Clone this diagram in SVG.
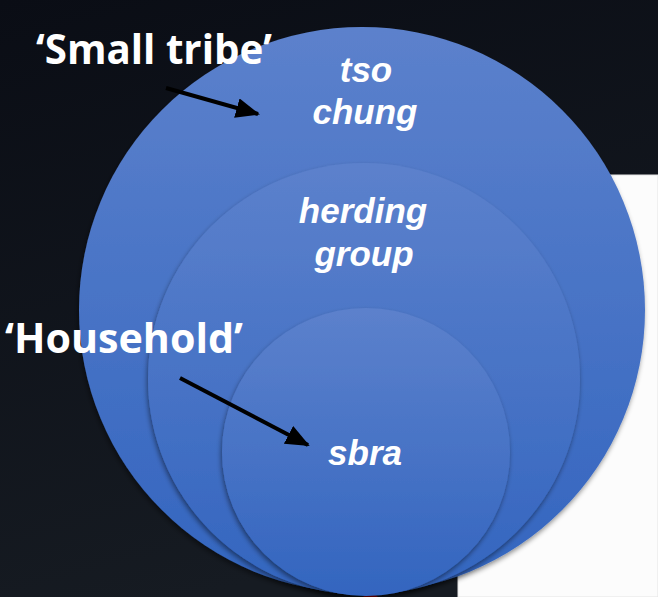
<svg xmlns="http://www.w3.org/2000/svg" width="658" height="597" viewBox="0 0 658 597">
<defs>
<linearGradient id="bg" x1="0" y1="0" x2="0.3" y2="1">
<stop offset="0" stop-color="#0a0d15"/>
<stop offset="1" stop-color="#161b22"/>
</linearGradient>
<linearGradient id="blue" x1="0" y1="0" x2="0" y2="1">
<stop offset="0" stop-color="#5c81cc"/>
<stop offset="1" stop-color="#3365bf"/>
</linearGradient>
<filter id="sh" x="-10%" y="-10%" width="120%" height="125%">
<feDropShadow dx="-1" dy="3" stdDeviation="2.5" flood-color="#000" flood-opacity="0.45"/>
</filter>
<marker id="ah" markerWidth="6" markerHeight="5" refX="5.5" refY="2.5" orient="auto" markerUnits="strokeWidth">
<path d="M0,0 L6,2.5 L0,5 Z" fill="#000"/>
</marker>
<style>
.circ{fill:url(#blue);filter:url(#sh)}
.lbl{font-family:"Open Sans","Liberation Sans",sans-serif;font-weight:bold;font-size:41px;fill:#fff}
.inl{font-family:"Liberation Sans",Arial,sans-serif;font-weight:bold;font-style:italic;font-size:35px;fill:#fff;text-anchor:middle}
.arr{stroke:#000;stroke-width:4;fill:none;marker-end:url(#ah)}
</style>
</defs>
<rect width="658" height="597" fill="url(#bg)"/>
<rect x="458" y="175" width="200" height="422" fill="#fcfcfc" stroke="#e4e4e4" stroke-width="1"/>
<polygon points="363,597 370,590 378,597" fill="#d40000"/>
<g id="tso-chung">
<circle class="circ" cx="362" cy="310" r="283"/>
<text class="inl"><tspan x="366" y="82">tso</tspan><tspan x="365" y="124">chung</tspan></text>
</g>
<g id="herding-group">
<circle class="circ" cx="364" cy="379" r="216"/>
<text class="inl"><tspan x="363" y="223">herding</tspan><tspan x="364" y="266">group</tspan></text>
</g>
<g id="sbra">
<circle class="circ" cx="366" cy="452" r="144"/>
<text class="inl" x="365" y="465">sbra</text>
</g>
<g id="labels">
<text class="lbl" x="36" y="64" textLength="236" lengthAdjust="spacingAndGlyphs">‘Small tribe’</text>
<text class="lbl" x="5" y="353" textLength="238" lengthAdjust="spacingAndGlyphs">‘Household’</text>
</g>
<g id="connectors">
<line class="arr" x1="166" y1="88" x2="258" y2="114"/>
<line class="arr" x1="180" y1="378" x2="308" y2="445"/>
</g>
</svg>
